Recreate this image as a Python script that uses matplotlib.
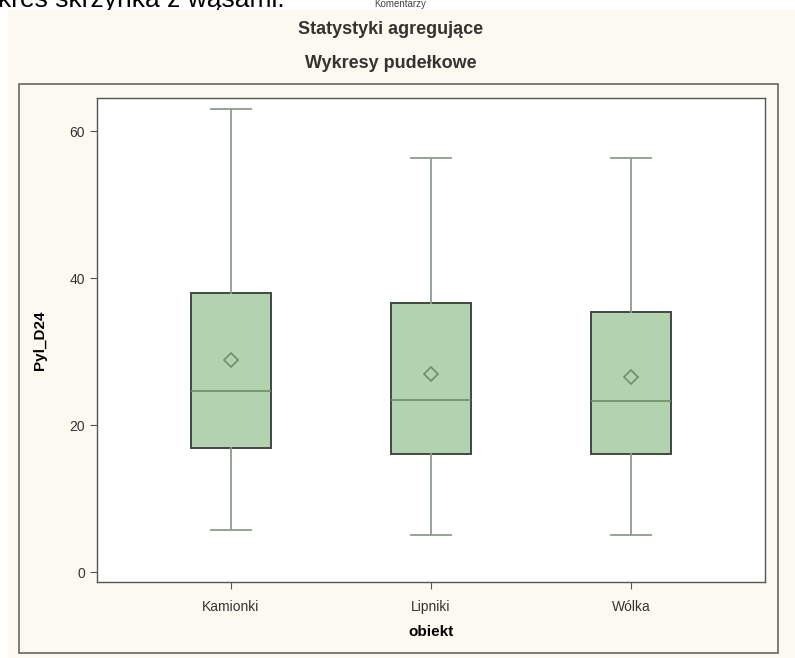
import matplotlib
matplotlib.use("Agg")
import matplotlib.pyplot as plt
from matplotlib.patches import Rectangle

plt.rcParams["font.family"] = ["Liberation Sans Narrow", "Liberation Sans", "DejaVu Sans"]

# dane
obiekty = ["Kamionki", "Lipniki", "Wólka"]
whis_lo = [5.7, 5.1, 5.1]
q1 = [16.9, 16.1, 16.0]
mediana = [24.6, 23.4, 23.3]
srednia = [28.8, 26.9, 26.6]
q3 = [38.0, 36.6, 35.4]
whis_hi = [63.0, 56.3, 56.3]
yticks = [0, 20, 40, 60]

BEIGE = "#fcf9f1"
FILL = "#b3d2b0"
EDGE = "#3e4b3e"
MED = "#6b8f69"
WHIS = "#8e9d8e"
TXT = "#333333"

fig = plt.figure(figsize=(7.95, 6.58), dpi=100, facecolor="white")

# tło i ramka zewnętrzna (pod osiami)
fig.patches.append(Rectangle((8 / 795, 0), 1, 1 - 10 / 658, transform=fig.transFigure,
                             facecolor=BEIGE, edgecolor="none", zorder=-2))
fig.patches.append(Rectangle((19 / 795, 5 / 658), (778 - 19) / 795, (653 - 84) / 658,
                             transform=fig.transFigure, facecolor="none",
                             edgecolor="#666666", lw=1.2, zorder=-1))

fig.text(-0.003, 1 - 7 / 658, "kres skrzynka z wąsami.", fontsize=19, color="black",
         family=["Liberation Sans", "DejaVu Sans"], va="baseline", ha="left", zorder=-3)
fig.text(400 / 795, 1 - 7 / 658, "Komentarzy", fontsize=7, color="#444444",
         va="baseline", ha="center", zorder=-3)
fig.text(391 / 795, 1 - 29 / 658, "Statystyki agregujące", fontsize=13, fontweight="bold",
         color=TXT, va="center", ha="center")
fig.text(391 / 795, 1 - 63 / 658, "Wykresy pudełkowe", fontsize=13, fontweight="bold",
         color=TXT, va="center", ha="center")

ax = fig.add_axes([97 / 795, 1 - 582 / 658, (765 - 97) / 795, (582 - 98) / 658])
ax.set_facecolor("white")

stats = [dict(label=o, whislo=lo, q1=a, med=m, mean=mu, q3=b, whishi=hi, fliers=[])
         for o, lo, a, m, mu, b, hi in zip(obiekty, whis_lo, q1, mediana, srednia, q3, whis_hi)]
ax.bxp(stats, positions=range(len(obiekty)), widths=0.4, capwidths=0.2,
       showmeans=True, patch_artist=True,
       boxprops=dict(facecolor=FILL, edgecolor=EDGE, lw=1.4),
       medianprops=dict(color=MED, lw=1.2),
       whiskerprops=dict(color=WHIS, lw=1.3),
       capprops=dict(color=WHIS, lw=1.3),
       meanprops=dict(marker="D", markersize=7, markerfacecolor="none",
                      markeredgecolor=MED, markeredgewidth=1.2))

ax.set_xlim(-0.67, 2.67)
ax.set_ylim(-1.36, 64.5)
ax.set_yticks(yticks)
ax.set_xticks(range(len(obiekty)))
ax.set_xticklabels(obiekty)
ax.tick_params(colors="#555555", labelcolor=TXT, labelsize=10, length=5, width=0.8)
ax.tick_params(axis="x", pad=8)
for s in ax.spines.values():
    s.set_color("#555555")
    s.set_linewidth(1.0)

ax.set_ylabel("Pyl_D24", fontsize=11, fontweight="bold", color="black", labelpad=16)
ax.set_xlabel("obiekt", fontsize=11, fontweight="bold", color="black", labelpad=8)

fig.savefig("out.png", dpi=100, facecolor="white")
